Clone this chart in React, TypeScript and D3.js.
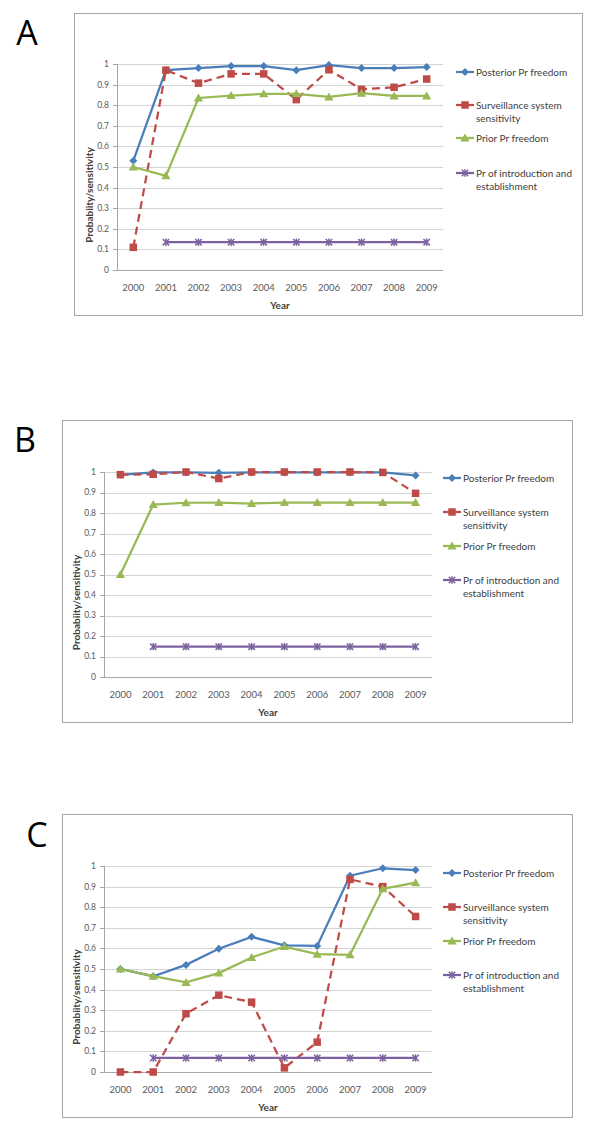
import React from "react";
import * as d3 from "d3";

const years = ["2000", "2001", "2002", "2003", "2004", "2005", "2006", "2007", "2008", "2009"];
const yTicks = [0, 0.1, 0.2, 0.3, 0.4, 0.5, 0.6, 0.7, 0.8, 0.9, 1];
const seriesNames = [
  ["Posterior Pr freedom"],
  ["Surveillance system", "sensitivity"],
  ["Prior Pr freedom"],
  ["Pr of introduction and", "establishment"],
];

// Panel A
const aPosterior = [0.53, 0.97, 0.98, 0.99, 0.99, 0.97, 0.995, 0.98, 0.98, 0.985];
const aSurveillance = [0.11, 0.97, 0.907, 0.952, 0.952, 0.827, 0.972, 0.877, 0.887, 0.927];
const aPrior = [0.5, 0.457, 0.835, 0.847, 0.855, 0.855, 0.84, 0.858, 0.845, 0.845];
const aIntro = [null, 0.135, 0.135, 0.135, 0.135, 0.135, 0.135, 0.135, 0.135, 0.135];

// Panel B
const bPosterior = [0.986, 0.998, 0.998, 0.996, 0.998, 0.998, 0.998, 0.998, 0.998, 0.983];
const bSurveillance = [0.987, 0.989, 1.0, 0.968, 1.0, 1.0, 1.0, 1.0, 0.998, 0.896];
const bPrior = [0.5, 0.841, 0.85, 0.851, 0.846, 0.851, 0.851, 0.851, 0.851, 0.851];
const bIntro = [null, 0.148, 0.148, 0.148, 0.148, 0.148, 0.148, 0.148, 0.148, 0.148];

// Panel C
const cPosterior = [0.5, 0.465, 0.52, 0.598, 0.656, 0.615, 0.612, 0.953, 0.989, 0.98];
const cSurveillance = [0.0, 0.0, 0.283, 0.373, 0.339, 0.02, 0.145, 0.935, 0.9, 0.755];
const cPrior = [0.5, 0.465, 0.435, 0.48, 0.556, 0.609, 0.572, 0.569, 0.889, 0.919];
const cIntro = [null, 0.068, 0.068, 0.068, 0.068, 0.068, 0.068, 0.068, 0.068, 0.068];

const COLORS = ["#4A7EBB", "#BE4B48", "#98B954", "#7D60A0"];
const MARKERS = ["diamond", "square", "triangle", "star"];
const FONT = "Lato, 'Open Sans', 'DejaVu Sans', sans-serif";

type Layout = {
  letter: string; lx: number; ly: number;
  box: [number, number, number, number];
  left: number; right: number; top: number; bottom: number;
  legX: number; legY: number[];
};

const layouts: Layout[] = [
  { letter: "A", lx: 27, ly: 45, box: [74, 13, 582, 315], left: 117, right: 443, top: 64, bottom: 270, legX: 456, legY: [72, 105, 138, 173] },
  { letter: "B", lx: 25, ly: 452, box: [62, 420, 572, 722], left: 104, right: 432, top: 472, bottom: 677, legX: 443, legY: [478, 512, 546, 580] },
  { letter: "C", lx: 37, ly: 847, box: [62, 814, 572, 1117], left: 104, right: 432, top: 866, bottom: 1072, legX: 443, legY: [873, 907, 941, 975] },
];

const panelData = [
  [aPosterior, aSurveillance, aPrior, aIntro],
  [bPosterior, bSurveillance, bPrior, bIntro],
  [cPosterior, cSurveillance, cPrior, cIntro],
];

function Marker({ type, x, y, color }: { type: string; x: number; y: number; color: string }) {
  if (type === "diamond") {
    const r = 4;
    return <path d={`M${x},${y - r}L${x + r},${y}L${x},${y + r}L${x - r},${y}Z`} fill={color} />;
  }
  if (type === "square") {
    const s = 7.5;
    return <rect x={x - s / 2} y={y - s / 2} width={s} height={s} fill={color} />;
  }
  if (type === "triangle") {
    return <path d={`M${x},${y - 4.5}L${x + 4.6},${y + 3.5}L${x - 4.6},${y + 3.5}Z`} fill={color} />;
  }
  const r = 3.2;
  return (
    <g stroke={color} strokeWidth={1.5}>
      <line x1={x - r} y1={y - r} x2={x + r} y2={y + r} />
      <line x1={x - r} y1={y + r} x2={x + r} y2={y - r} />
      <line x1={x} y1={y - r - 0.5} x2={x} y2={y + r + 0.5} />
    </g>
  );
}

function Panel({ L, data }: { L: Layout; data: (number | null)[][] }) {
  const x = d3.scaleBand<string>().domain(years).range([L.left, L.right]);
  const cx = (yr: string) => (x(yr) as number) + x.bandwidth() / 2;
  const y = d3.scaleLinear().domain([0, 1]).range([L.bottom, L.top]);
  const [bx0, by0, bx1, by1] = L.box;
  const midY = (L.top + L.bottom) / 2 + 28;
  return (
    <g fontFamily={FONT}>
      <text x={L.lx} y={L.ly} fontSize={34} fontFamily="'Open Sans', 'DejaVu Sans', sans-serif" textAnchor="middle" fill="#000">{L.letter}</text>
      <rect x={bx0 + 0.5} y={by0 + 0.5} width={bx1 - bx0} height={by1 - by0} fill="#fff" stroke="#A6A6A6" strokeWidth={1} />
      {yTicks.map((t) => (
        <g key={t}>
          {t > 0 && <line x1={L.left} x2={L.right} y1={Math.round(y(t)) + 0.5} y2={Math.round(y(t)) + 0.5} stroke="#D4D4D4" strokeWidth={1} />}
          <line x1={L.left - 4} x2={L.left} y1={Math.round(y(t)) + 0.5} y2={Math.round(y(t)) + 0.5} stroke="#A6A6A6" />
          <text x={L.left - 8} y={y(t)} dy="0.35em" fontSize={8.5} textAnchor="end" fill="#595959">{String(t)}</text>
        </g>
      ))}
      <line x1={L.left + 0.5} x2={L.left + 0.5} y1={L.top} y2={L.bottom} stroke="#A6A6A6" />
      <line x1={L.left} x2={L.right} y1={Math.round(L.bottom) + 0.5} y2={Math.round(L.bottom) + 0.5} stroke="#A6A6A6" />
      {years.map((yr) => (
        <text key={yr} x={cx(yr)} y={L.bottom + 18} dy="0.35em" fontSize={9.5} textAnchor="middle" fill="#595959">{yr}</text>
      ))}
      <text x={(L.left + L.right) / 2} y={L.bottom + 35} dy="0.35em" fontSize={10} fontWeight="bold" textAnchor="middle" fill="#404040">Year</text>
      <text transform={`translate(${L.left - 28},${midY}) rotate(-90)`} dy="0.35em" fontSize={10} fontWeight="bold" textAnchor="middle" fill="#404040">Probabiity/sensitivity</text>
      {data.map((vals, i) => {
        const pts = years.map((yr, j) => ({ yr, v: vals[j] }));
        const line = d3.line<{ yr: string; v: number | null }>()
          .defined((d) => d.v !== null)
          .x((d) => cx(d.yr))
          .y((d) => y(d.v as number));
        return (
          <g key={i}>
            <path d={line(pts) || ""} fill="none" stroke={COLORS[i]} strokeWidth={2.25} strokeDasharray={i === 1 ? "8,5" : undefined} />
            {pts.filter((p) => p.v !== null).map((p) => (
              <Marker key={p.yr} type={MARKERS[i]} x={cx(p.yr)} y={y(p.v as number)} color={COLORS[i]} />
            ))}
          </g>
        );
      })}
      {seriesNames.map((lines, i) => {
        const ly = L.legY[i];
        return (
          <g key={i}>
            <line x1={L.legX} x2={L.legX + 18} y1={ly} y2={ly} stroke={COLORS[i]} strokeWidth={2.25} />
            <Marker type={MARKERS[i]} x={L.legX + 9} y={ly} color={COLORS[i]} />
            {lines.map((t, k) => (
              <text key={k} x={L.legX + 20} y={ly + k * 13} dy="0.35em" fontSize={10} fill="#404040">{t}</text>
            ))}
          </g>
        );
      })}
    </g>
  );
}

export default function App() {
  return (
    <svg width={600} height={1132} style={{ display: "block", position: "absolute", left: 0, top: 0 }}>
      <rect width={600} height={1132} fill="#fff" />
      {layouts.map((L, i) => (
        <Panel key={L.letter} L={L} data={panelData[i]} />
      ))}
    </svg>
  );
}
